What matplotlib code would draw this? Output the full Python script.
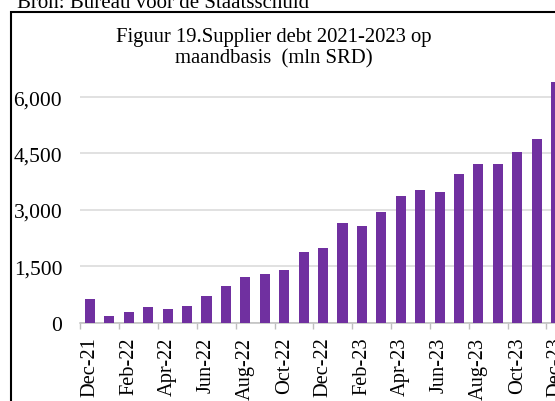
import matplotlib.pyplot as plt
from matplotlib.lines import Line2D
from matplotlib.ticker import FuncFormatter

plt.rcParams['font.family'] = ['Liberation Serif', 'DejaVu Serif']

months = ["Dec-21", "Jan-22", "Feb-22", "Mar-22", "Apr-22", "May-22", "Jun-22",
          "Jul-22", "Aug-22", "Sep-22", "Oct-22", "Nov-22", "Dec-22", "Jan-23",
          "Feb-23", "Mar-23", "Apr-23", "May-23", "Jun-23", "Jul-23", "Aug-23",
          "Sep-23", "Oct-23", "Nov-23", "Dec-23"]
debt = [630, 170, 275, 410, 365, 445, 700, 965, 1225, 1285, 1395, 1880, 1980,
        2645, 2575, 2940, 3380, 3535, 3470, 3960, 4225, 4215, 4545, 4880, 6410]
yticks = [0, 1500, 3000, 4500, 6000]

W, H = 555, 402
fig = plt.figure(figsize=(W / 100, H / 100), dpi=100)

# plot area runs past the right edge of the figure
left, bottom = 80.3 / W, 78.3 / H
ax = fig.add_axes([left, bottom, 485.5 / W, 248.2 / H])

x = list(range(len(months)))
ax.bar(x, debt, width=0.52, color='#7030A0', zorder=3)

ax.set_xlim(-0.5, len(months) - 0.5)
ax.set_ylim(0, 6600)
ax.set_yticks(yticks)
ax.yaxis.set_major_formatter(FuncFormatter(lambda v, p: f"{int(v):,}"))
ax.grid(axis='y', color='#D9D9D9', linewidth=1.1, zorder=0)
ax.tick_params(axis='y', length=0, pad=13, labelsize=15.5)

ax.set_xticks(x[::2])
ax.set_xticklabels(months[::2], rotation=90)
ax.set_xticks([i - 0.5 for i in x[::2]], minor=True)
ax.tick_params(axis='x', which='major', length=0, pad=10, labelsize=14.7)
ax.tick_params(axis='x', which='minor', length=4, width=1, color='#BFBFBF')

for s in ['top', 'right', 'left']:
    ax.spines[s].set_visible(False)
ax.spines['bottom'].set_color('#BFBFBF')
ax.spines['bottom'].set_linewidth(1.1)

fig.text(274 / W, 1 - 41.7 / H, "Figuur 19.Supplier debt 2021-2023 op",
         ha='center', va='baseline', fontsize=14.9)
fig.text(274 / W, 1 - 63.5 / H, "maandbasis  (mln SRD)",
         ha='center', va='baseline', fontsize=14.9)
fig.text(17 / W, 1 - 8 / H, "Bron: Bureau voor de Staatsschuld",
         ha='left', va='baseline', fontsize=15)

# chart border; only its left and top edges fall inside the image
bx, by = 10.5 / W, 1 - 12.5 / H
fig.add_artist(Line2D([bx, bx, 1.1], [-0.1, by, by], transform=fig.transFigure,
                      color='black', linewidth=1.5, solid_joinstyle='miter'))

fig.savefig('out.png', dpi=100)
